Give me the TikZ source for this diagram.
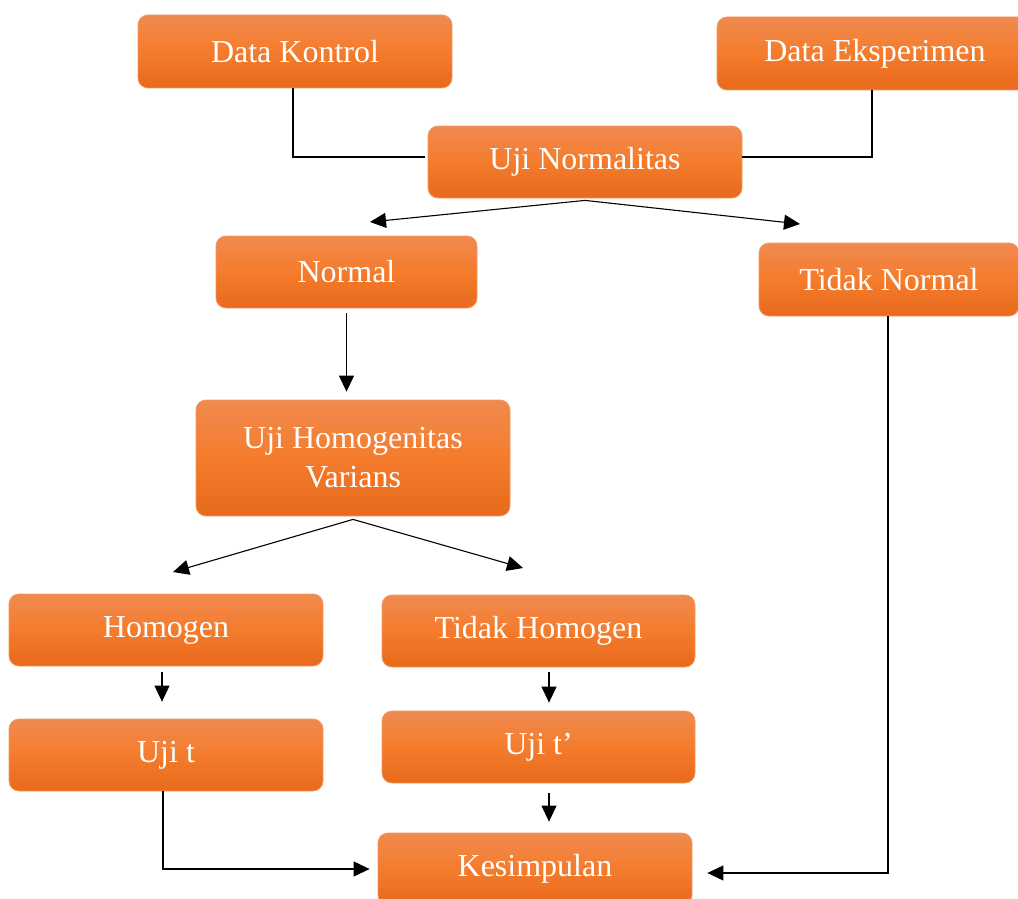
\documentclass[tikz,border=0pt]{standalone}
\usepackage{fontspec}
\setmainfont{Liberation Serif}
\usetikzlibrary{arrows.meta}
\definecolor{otop}{HTML}{F08A50}
\definecolor{omid}{HTML}{F47C2C}
\definecolor{obot}{HTML}{E8691B}
\definecolor{oedge}{HTML}{F29A60}
\begin{document}
\begin{tikzpicture}[x=1pt,y=-1pt,
  box/.style={rectangle, rounded corners=10pt, top color=otop, bottom color=obot, middle color=omid,
    draw=oedge, line width=0.8pt, text=white, font=\fontsize{32}{39}\selectfont, align=center, inner sep=0pt},
  conn/.style={draw=black, line width=1.1pt},
  arr/.style={conn, -{Triangle[length=16pt,width=15pt]}}]
\clip (0,0) rectangle (1018,899);
% nodes
\node[box, minimum width=314pt, minimum height=73pt] (dk) at (295,51.5) {Data Kontrol};
\node[box, minimum width=316pt, minimum height=73pt] (de) at (875,53.5) {Data Eksperimen};
\node[box, minimum width=314pt, minimum height=72pt] (un) at (585,162) {Uji Normalitas};
\node[box, minimum width=261pt, minimum height=72pt] (nm) at (346.5,272) {Normal};
\node[box, minimum width=260pt, minimum height=73pt] (tn) at (889,279.5) {Tidak Normal};
\node[box, minimum width=314pt, minimum height=116pt] (uh) at (353,458) {Uji Homogenitas\\Varians};
\node[box, minimum width=314pt, minimum height=72pt] (hm) at (166,630) {Homogen};
\node[box, minimum width=313pt, minimum height=72pt] (th) at (538.5,631) {Tidak Homogen};
\node[box, minimum width=314pt, minimum height=72pt] (ut) at (166,755) {Uji t};
\node[box, minimum width=313pt, minimum height=72pt] (utt) at (538.5,747) {Uji t’};
\node[box, minimum width=314pt, minimum height=72pt] (ks) at (535,869) {Kesimpulan};
% free ends
\coordinate (c1) at (370,222);
\coordinate (c2) at (800,224);
\coordinate (c3) at (173,572);
\coordinate (c4) at (523,568);
% connectors
\draw[conn] ([xshift=-2pt]dk.south) |- ([xshift=-3pt,yshift=5pt]un.west);
\draw[conn] ([xshift=-3pt]de.south) |- ([yshift=5pt]un.east);
\draw[arr] ([yshift=-2pt]un.south) -- (c1);
\draw[arr] ([yshift=-2pt]un.south) -- (c2);
\draw[arr, shorten <=5pt, shorten >=8pt] (nm.south) -- (nm.south |- uh.north);
\draw[arr] ([yshift=-3pt]uh.south) -- (c3);
\draw[arr] ([yshift=-3pt]uh.south) -- (c4);
\draw[arr, shorten <=6pt, shorten >=17pt] ([xshift=-4pt]hm.south) -- ([xshift=-4pt]ut.north);
\draw[arr, shorten <=5pt, shorten >=8pt] ([xshift=10.5pt]th.south) -- ([xshift=10.5pt]utt.north);
\draw[arr, shorten <=10pt, shorten >=11pt] ([xshift=10.5pt]utt.south) -- ([xshift=10.5pt]utt.south |- ks.north);
\draw[arr, shorten >=8pt] ([xshift=-3pt]ut.south) |- (ks.west);
\draw[arr, shorten >=15pt] ([xshift=-1pt]tn.south) |- ([yshift=-4pt]ks.east);
\end{tikzpicture}
\end{document}
